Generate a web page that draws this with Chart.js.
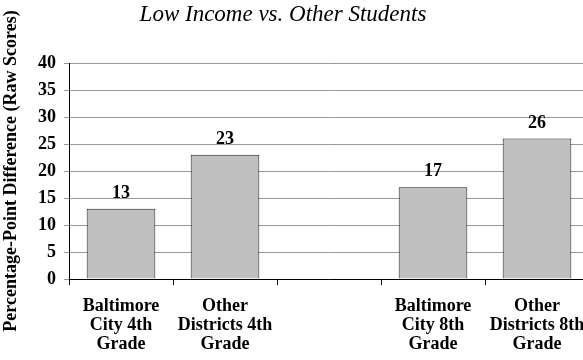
<!DOCTYPE html>
<html>
<head>
<meta charset="utf-8">
<script src="https://cdn.jsdelivr.net/npm/chart.js@4"></script>
<style>
  html, body { margin: 0; padding: 0; background: #fff; overflow: hidden; }
  #wrap { width: 600px; height: 360px; }
</style>
</head>
<body>
<div id="wrap"><canvas id="chart"></canvas></div>
<script>
// Dados do gráfico
const categories = [
  ["Baltimore", "City 4th", "Grade"],
  ["Other", "Districts 4th", "Grade"],
  "",
  ["Baltimore", "City 8th", "Grade"],
  ["Other", "Districts 8th", "Grade"]
];
const gaps = [13, 23, null, 17, 26];
const yTicks = [0, 5, 10, 15, 20, 25, 30, 35, 40];

const chartTitle = "Low Income vs. Other Students";
const yTitle = "Percentage-Point Difference (Raw Scores)";

const serif = "'Liberation Serif', 'DejaVu Serif', serif";

// Título em itálico, desenhado à mão para ficar na mesma posição
const titlePlugin = {
  id: "italicTitle",
  afterDraw(chart) {
    const ctx = chart.ctx;
    ctx.save();
    ctx.font = "italic 23px " + serif;
    ctx.fillStyle = "#000";
    ctx.textAlign = "center";
    ctx.textBaseline = "alphabetic";
    ctx.fillText(chartTitle, 283, 21);
    ctx.restore();
  }
};

// Valores acima das barras
const valueLabels = {
  id: "valueLabels",
  afterDatasetsDraw(chart) {
    const ctx = chart.ctx;
    const meta = chart.getDatasetMeta(0);
    ctx.save();
    ctx.font = "bold 18px " + serif;
    ctx.fillStyle = "#000";
    ctx.textAlign = "center";
    ctx.textBaseline = "alphabetic";
    meta.data.forEach((bar, i) => {
      const v = gaps[i];
      if (v === null) return;
      ctx.fillText(String(v), bar.x, bar.y - 11);
    });
    ctx.restore();
  }
};

new Chart(document.getElementById("chart"), {
  type: "bar",
  data: {
    labels: categories,
    datasets: [{
      data: gaps,
      backgroundColor: "#c0c0c0",
      borderColor: "#222",
      borderWidth: 1,
      categoryPercentage: 1,
      barPercentage: 0.66
    }]
  },
  options: {
    responsive: true,
    maintainAspectRatio: false,
    animation: false,
    layout: { padding: { top: 63, right: 11, left: 0, bottom: 0 } },
    plugins: {
      legend: { display: false },
      title: { display: false },
      tooltip: { enabled: false }
    },
    scales: {
      x: {
        grid: {
          offset: true,
          drawOnChartArea: false,
          drawTicks: true,
          tickLength: 6,
          color: "#000"
        },
        border: { color: "#000", width: 1 },
        ticks: {
          color: "#000",
          font: { family: serif, size: 18, weight: "bold", lineHeight: 1.05 },
          padding: 12,
          maxRotation: 0,
          autoSkip: false
        },
        afterFit(scale) { scale.height = 81; }
      },
      y: {
        min: 0,
        max: 40,
        afterBuildTicks(scale) {
          scale.ticks = yTicks.map(v => ({ value: v }));
        },
        grid: {
          color: "#999",
          tickLength: 5
        },
        border: { color: "#000", width: 1 },
        ticks: {
          color: "#000",
          font: { family: serif, size: 18, weight: "bold" },
          padding: 8
        },
        title: {
          display: true,
          text: yTitle,
          color: "#000",
          font: { family: serif, size: 18, weight: "bold" },
          padding: { top: 1, bottom: 0 }
        },
        afterFit(scale) { scale.width = 69; }
      }
    }
  },
  plugins: [titlePlugin, valueLabels]
});
</script>
</body>
</html>
